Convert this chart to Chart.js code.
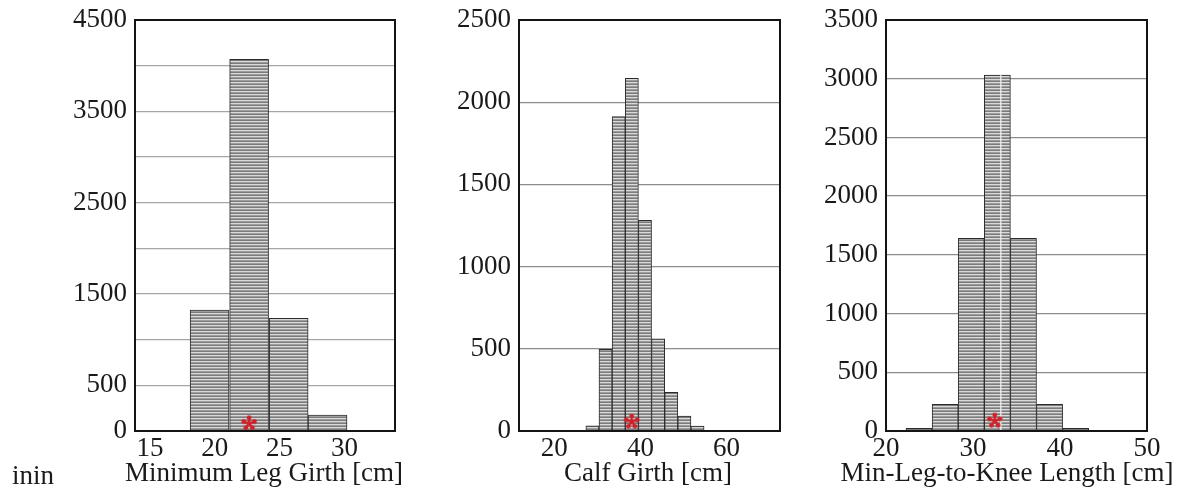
<!DOCTYPE html>
<html>
<head>
<meta charset="utf-8">
<title>Leg measurement histograms</title>
<script src="https://cdn.jsdelivr.net/npm/chart.js@4.4.1/dist/chart.umd.min.js"></script>
<style>
  html, body { margin: 0; padding: 0; background: #ffffff; }
  body { width: 1193px; height: 489px; position: relative; overflow: hidden; }
  canvas { position: absolute; top: 0; }
  #unitNote {
    position: absolute; left: 12px; top: 462px;
    font: 27px "Liberation Serif", "Times New Roman", serif;
    line-height: 27px; color: #1a1a1a; white-space: nowrap;
  }
</style>
</head>
<body>
<canvas id="girthChart" width="405" height="489" style="left:0px"></canvas>
<canvas id="calfChart" width="395" height="489" style="left:405px"></canvas>
<canvas id="kneeChart" width="393" height="489" style="left:800px"></canvas>
<div id="unitNote">inin</div>

<script>
// ---- Minimum leg girth ----
const girthBinCenters = [19.6, 22.65, 25.7, 28.7];
const girthCounts     = [1325, 4070, 1234, 175];
const girthSubject    = [{ x: 22.65, y: 84 }];
const girthXTicks     = [15, 20, 25, 30];
const girthYGrid      = [0, 500, 1000, 1500, 2000, 2500, 3000, 3500, 4000, 4500];
const girthYLabels    = [0, 500, 1500, 2500, 3500, 4500];

// ---- Calf girth ----
const calfBinCenters = [28.85, 31.9, 34.95, 38.0, 41.05, 44.1, 47.15, 50.2, 53.25];
const calfCounts     = [32, 497, 1912, 2145, 1282, 560, 235, 91, 30];
const calfSubject    = [{ x: 37.95, y: 57 }];
const calfXTicks     = [20, 40, 60];
const calfYGrid      = [0, 500, 1000, 1500, 2000, 2500];
const calfYLabels    = [0, 500, 1000, 1500, 2000, 2500];

// ---- Min-leg-to-knee length ----
const kneeBinCenters = [23.8, 26.8, 29.8, 32.8, 35.8, 38.8, 41.8];
const kneeCounts     = [22, 227, 1641, 3032, 1641, 227, 22];
const kneeSubject    = [{ x: 32.5, y: 88 }];
const kneeMean       = [{ x: 33.2, y: 0 }, { x: 33.2, y: 3032 }];
const kneeXTicks     = [20, 30, 40, 50];
const kneeYGrid      = [0, 500, 1000, 1500, 2000, 2500, 3000, 3500];
const kneeYLabels    = [0, 500, 1000, 1500, 2000, 2500, 3000, 3500];

const SERIF = '"Liberation Serif", "Times New Roman", serif';
const TEXT_COLOR = '#1a1a1a';

// Horizontal-stripe fill used for the histogram bars
function stripeFill() {
  const tile = document.createElement('canvas');
  tile.width = 4; tile.height = 3;
  const t = tile.getContext('2d');
  const rows = ['#7c7c7c', '#dadada', '#9c9c9c'];
  rows.forEach((c, i) => { t.fillStyle = c; t.fillRect(0, i, 4, 1); });
  return t.createPattern(tile, 'repeat');
}

// Five-armed red asterisk marker
function asteriskMarker() {
  const s = 18, c = s / 2;
  const cv = document.createElement('canvas');
  cv.width = s; cv.height = s;
  const g = cv.getContext('2d');
  g.strokeStyle = '#d0202a';
  g.fillStyle = '#d0202a';
  g.lineWidth = 2.4;
  g.lineCap = 'round';
  for (let k = 0; k < 5; k++) {
    const a = (-90 + k * 72) * Math.PI / 180;
    const ex = c + Math.cos(a) * 5.6, ey = c + Math.sin(a) * 5.6;
    g.beginPath(); g.moveTo(c, c); g.lineTo(ex, ey); g.stroke();
    g.beginPath(); g.arc(ex, ey, 2.4, 0, Math.PI * 2); g.fill();
  }
  return cv;
}

// Plot frame and the axis caption under each histogram
const framePlugin = {
  id: 'plotFrame',
  afterDraw(chart, args, opts) {
    const { ctx, chartArea: a } = chart;
    ctx.save();
    ctx.strokeStyle = '#141414';
    ctx.lineWidth = 2;
    ctx.strokeRect(a.left, a.top, a.right - a.left, a.bottom - a.top);
    ctx.font = '27px ' + SERIF;
    ctx.fillStyle = TEXT_COLOR;
    ctx.textAlign = 'center';
    ctx.textBaseline = 'alphabetic';
    ctx.fillText(opts.caption, (a.left + a.right) / 2 + opts.dx, 481);
    ctx.restore();
  }
};

const STRIPES = stripeFill();
const ASTERISK = asteriskMarker();

function histogram(id, o) {
  const datasets = [
    {
      type: 'bar',
      data: o.centers.map((x, i) => ({ x: x, y: o.counts[i] })),
      backgroundColor: STRIPES,
      borderColor: '#2b2b2b',
      borderWidth: 1,
      borderSkipped: 'bottom',
      barPercentage: 1,
      categoryPercentage: 1,
      order: 3
    },
    {
      type: 'scatter',
      data: o.subject,
      pointStyle: ASTERISK,
      pointRadius: 9,
      order: 0
    }
  ];
  if (o.mean) {
    datasets.push({
      type: 'line',
      data: o.mean,
      borderColor: '#f6f6f6',
      borderWidth: 1.2,
      pointRadius: 0,
      order: 1
    });
  }
  return new Chart(document.getElementById(id), {
    type: 'bar',
    data: { datasets: datasets },
    options: {
      responsive: false,
      animation: false,
      devicePixelRatio: 1,
      events: [],
      layout: { padding: { top: 20, right: o.rightPad, bottom: 0, left: 0 } },
      plugins: {
        legend: { display: false },
        tooltip: { enabled: false },
        plotFrame: { caption: o.caption, dx: o.captionDx }
      },
      scales: {
        x: {
          type: 'linear',
          offset: false,
          min: o.xMin,
          max: o.xMax,
          afterBuildTicks: s => { s.ticks = o.xTicks.map(v => ({ value: v })); },
          afterFit: s => { s.height = 58; s.paddingLeft = 0; s.paddingRight = 0; },
          grid: { display: false, drawTicks: false, offset: false },
          border: { display: false },
          ticks: {
            autoSkip: false, maxRotation: 0, padding: 2,
            color: TEXT_COLOR, font: { family: SERIF, size: 27 }
          }
        },
        y: {
          type: 'linear',
          min: 0,
          max: o.yMax,
          afterBuildTicks: s => { s.ticks = o.yGrid.map(v => ({ value: v })); },
          afterFit: s => { s.width = o.yWidth; s.paddingTop = 0; s.paddingBottom = 0; },
          grid: { color: o.gridColor, lineWidth: 1.3, drawTicks: false },
          border: { display: false },
          ticks: {
            autoSkip: false, padding: 8,
            color: TEXT_COLOR, font: { family: SERIF, size: 27 },
            callback: v => (o.yLabels.includes(v) ? String(v) : '')
          }
        }
      }
    },
    plugins: [framePlugin]
  });
}

histogram('girthChart', {
  centers: girthBinCenters, counts: girthCounts, subject: girthSubject,
  xTicks: girthXTicks, yGrid: girthYGrid, yLabels: girthYLabels,
  xMin: 13.85, xMax: 33.9, yMax: 4500,
  yWidth: 135, rightPad: 8, gridColor: '#a6a6a6',
  caption: 'Minimum Leg Girth [cm]', captionDx: -1
});

histogram('calfChart', {
  centers: calfBinCenters, counts: calfCounts, subject: calfSubject,
  xTicks: calfXTicks, yGrid: calfYGrid, yLabels: calfYLabels,
  xMin: 11.8, xMax: 72.4, yMax: 2500,
  yWidth: 114, rightPad: 20, gridColor: '#8c8c8c',
  caption: 'Calf Girth [cm]', captionDx: -1.5
});

histogram('kneeChart', {
  centers: kneeBinCenters, counts: kneeCounts, subject: kneeSubject, mean: kneeMean,
  xTicks: kneeXTicks, yGrid: kneeYGrid, yLabels: kneeYLabels,
  xMin: 20, xMax: 50, yMax: 3500,
  yWidth: 86, rightPad: 46, gridColor: '#8c8c8c',
  caption: 'Min-Leg-to-Knee Length [cm]', captionDx: -9.5
});
</script>
</body>
</html>
